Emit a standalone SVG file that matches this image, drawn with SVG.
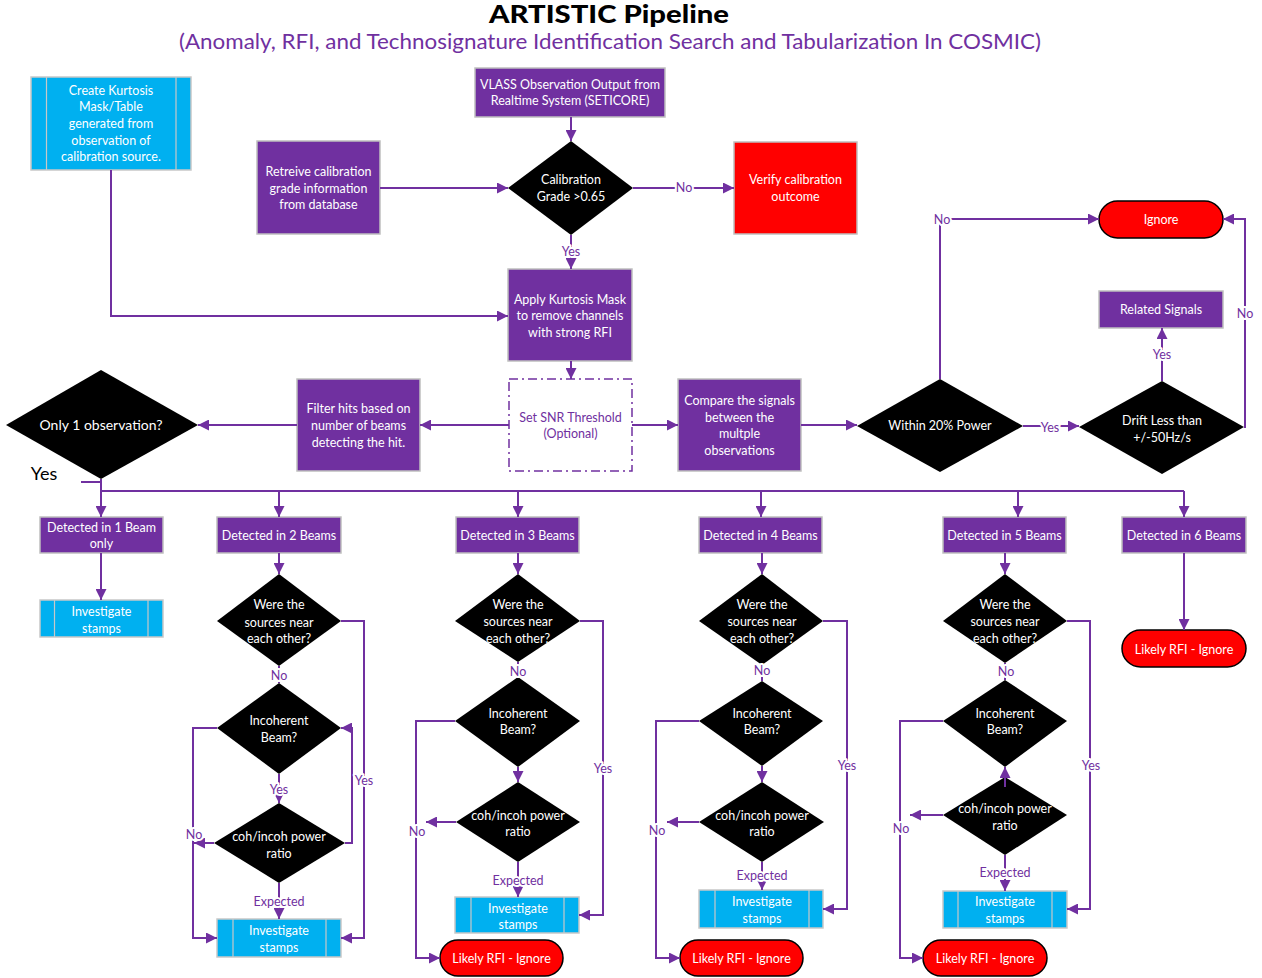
<svg xmlns="http://www.w3.org/2000/svg" width="1262" height="978" viewBox="0 0 1262 978">
<defs>
<marker id="ah" markerUnits="userSpaceOnUse" markerWidth="11" markerHeight="11" refX="10" refY="5" orient="auto" viewBox="0 0 10 10">
<path d="M0,0 L10,5 L0,10 z" fill="#7030A0"/>
</marker>
<style>
text{font-family:Lato,"Liberation Sans",sans-serif;font-size:12.5px;text-anchor:middle}
.w{fill:#fff}
.p{fill:#7030A0}
.pbox{fill:#7030A0;stroke:#BFBFBF;stroke-width:1.5}
.cbox{fill:#00B0F0;stroke:#C8C8C8;stroke-width:1.5}
.cin{stroke:#C8C8C8;stroke-width:1.2}
.rbox{fill:#FF0000;stroke:#BFBFBF;stroke-width:1.5}
.term{fill:#FF0000;stroke:#000;stroke-width:1.5}
.dia{fill:#000}
.c path{fill:none;stroke:#7030A0;stroke-width:2}
.c path.a{marker-end:url(#ah)}
.lbl{fill:#7030A0;stroke:#fff;stroke-width:4;paint-order:stroke;stroke-linejoin:round}
</style>
</defs>
<rect width="1262" height="978" fill="#fff"/>

<g id="title">
<text x="609" y="23" textLength="240" lengthAdjust="spacingAndGlyphs" style="font-size:25px;font-weight:900;fill:#000">ARTISTIC Pipeline</text>
<text x="610" y="49" textLength="862" lengthAdjust="spacingAndGlyphs" style="font-size:21px;fill:#7030A0">(Anomaly, RFI, and Technosignature Identification Search and Tabularization In COSMIC)</text>
</g>

<g id="n-kurtosis">
<rect class="cbox" x="31" y="77" width="160" height="93"/>
<line class="cin" x1="46.5" y1="77" x2="46.5" y2="170"/><line class="cin" x1="176" y1="77" x2="176" y2="170"/>
<text class="w" x="111"><tspan x="111" y="95">Create Kurtosis</tspan><tspan x="111" y="111">Mask/Table</tspan><tspan x="111" y="128">generated from</tspan><tspan x="111" y="145">observation of</tspan><tspan x="111" y="161">calibration source.</tspan></text>
</g>
<g id="n-retreive">
<rect class="pbox" x="257" y="141" width="123" height="93"/>
<text class="w"><tspan x="318.5" y="176">Retreive calibration</tspan><tspan x="318.5" y="193">grade information</tspan><tspan x="318.5" y="209">from database</tspan></text>
</g>
<g id="n-vlass">
<rect class="pbox" x="475" y="68" width="190" height="49"/>
<text class="w"><tspan x="570" y="89">VLASS Observation Output from</tspan><tspan x="570" y="105">Realtime System (SETICORE)</tspan></text>
</g>
<g id="n-calgrade">
<polygon class="dia" points="571,141 633,188 571,235 508,188"/>
<text class="w"><tspan x="571" y="184">Calibration</tspan><tspan x="571" y="201">Grade &gt;0.65</tspan></text>
</g>
<g id="n-verify">
<rect class="rbox" x="734" y="142" width="123" height="92"/>
<text class="w"><tspan x="795.5" y="184">Verify calibration</tspan><tspan x="795.5" y="201">outcome</tspan></text>
</g>
<g id="n-apply">
<rect class="pbox" x="508" y="269" width="124" height="92"/>
<text class="w"><tspan x="570" y="304">Apply Kurtosis Mask</tspan><tspan x="570" y="320">to remove channels</tspan><tspan x="570" y="337">with strong RFI</tspan></text>
</g>
<g id="n-snr">
<rect x="509" y="379" width="123" height="92" fill="#fff" stroke="#7030A0" stroke-width="1.5" stroke-dasharray="9,4,2,4"/>
<text class="p"><tspan x="570.5" y="422">Set SNR Threshold</tspan><tspan x="570.5" y="438">(Optional)</tspan></text>
</g>
<g id="n-compare">
<rect class="pbox" x="678" y="379" width="123" height="92"/>
<text class="w"><tspan x="739.5" y="405">Compare the signals</tspan><tspan x="739.5" y="422">between the</tspan><tspan x="739.5" y="438">multple</tspan><tspan x="739.5" y="455">observations</tspan></text>
</g>
<g id="n-filter">
<rect class="pbox" x="297" y="379" width="123" height="92"/>
<text class="w"><tspan x="358.5" y="413">Filter hits based on</tspan><tspan x="358.5" y="430">number of beams</tspan><tspan x="358.5" y="447">detecting the hit.</tspan></text>
</g>
<g id="n-only1">
<polygon class="dia" points="101,370 198,425 101,479 6,425"/>
<text class="w" x="101" y="430" style="font-size:14px">Only 1 observation?</text>
<text x="44" y="480" style="font-size:18px;fill:#000">Yes</text>
</g>
<g id="n-within">
<polygon class="dia" points="940,379 1023,426 940,472 857,426"/>
<text class="w" x="940" y="430">Within 20% Power</text>
</g>
<g id="n-drift">
<polygon class="dia" points="1162,381 1244,427 1162,474 1079,427"/>
<text class="w"><tspan x="1162" y="425">Drift Less than</tspan><tspan x="1162" y="442">+/-50Hz/s</tspan></text>
</g>
<g id="n-ignore">
<rect class="term" x="1099" y="201" width="124" height="37" rx="18.5"/>
<text class="w" x="1161" y="224">Ignore</text>
</g>
<g id="n-related">
<rect class="pbox" x="1099" y="291" width="124" height="37"/>
<text class="w" x="1161" y="314">Related Signals</text>
</g>

<g id="n-d1">
<rect class="pbox" x="40" y="517" width="123" height="36"/>
<text class="w"><tspan x="101.5" y="532">Detected in 1 Beam</tspan><tspan x="101.5" y="548">only</tspan></text>
</g>
<g id="n-inv1">
<rect class="cbox" x="40" y="600" width="123" height="37"/>
<line class="cin" x1="54.5" y1="600" x2="54.5" y2="637"/><line class="cin" x1="148" y1="600" x2="148" y2="637"/>
<text class="w"><tspan x="101.5" y="616">Investigate</tspan><tspan x="101.5" y="633">stamps</tspan></text>
</g>
<g id="n-d2"><rect class="pbox" x="217" y="517" width="124" height="36"/><text class="w" x="279" y="540">Detected in 2 Beams</text></g>
<g id="n-d3"><rect class="pbox" x="456" y="517" width="123" height="36"/><text class="w" x="517.5" y="540">Detected in 3 Beams</text></g>
<g id="n-d4"><rect class="pbox" x="699" y="517" width="123" height="36"/><text class="w" x="760.5" y="540">Detected in 4 Beams</text></g>
<g id="n-d5"><rect class="pbox" x="943" y="517" width="123" height="36"/><text class="w" x="1004.5" y="540">Detected in 5 Beams</text></g>
<g id="n-d6"><rect class="pbox" x="1122" y="517" width="124" height="36"/><text class="w" x="1184" y="540">Detected in 6 Beams</text></g>
<g id="n-rfi6"><rect class="term" x="1122" y="630" width="124" height="37" rx="18.5"/><text class="w" x="1184" y="654">Likely RFI - Ignore</text></g>

<!-- column 2 -->
<g id="n-near2"><polygon class="dia" points="279,574 341,621 279,666 217,621"/><text class="w"><tspan x="279" y="609">Were the</tspan><tspan x="279" y="627">sources near</tspan><tspan x="279" y="643">each other?</tspan></text></g>
<g id="n-inc2"><polygon class="dia" points="279,683 341,728 279,774 217,728"/><text class="w"><tspan x="279" y="725">Incoherent</tspan><tspan x="279" y="742">Beam?</tspan></text></g>
<g id="n-coh2"><polygon class="dia" points="279,803 345,843 279,883 214,843"/><text class="w"><tspan x="279" y="841">coh/incoh power</tspan><tspan x="279" y="858">ratio</tspan></text></g>
<g id="n-inv2"><rect class="cbox" x="217" y="919" width="124" height="38"/><line class="cin" x1="233" y1="919" x2="233" y2="957"/><line class="cin" x1="326" y1="919" x2="326" y2="957"/><text class="w"><tspan x="279" y="935">Investigate</tspan><tspan x="279" y="952">stamps</tspan></text></g>

<!-- column 3 -->
<g id="n-near3"><polygon class="dia" points="518,574 580,621 518,662 455,621"/><text class="w"><tspan x="518" y="609">Were the</tspan><tspan x="518" y="626">sources near</tspan><tspan x="518" y="643">each other?</tspan></text></g>
<g id="n-inc3"><polygon class="dia" points="518,677 580,721 518,767 455,721"/><text class="w"><tspan x="518" y="718">Incoherent</tspan><tspan x="518" y="734">Beam?</tspan></text></g>
<g id="n-coh3"><polygon class="dia" points="518,782 580,822 518,862 456,822"/><text class="w"><tspan x="518" y="820">coh/incoh power</tspan><tspan x="518" y="836">ratio</tspan></text></g>
<g id="n-inv3"><rect class="cbox" x="455" y="897" width="124" height="36"/><line class="cin" x1="471" y1="897" x2="471" y2="933"/><line class="cin" x1="564" y1="897" x2="564" y2="933"/><text class="w"><tspan x="518" y="913">Investigate</tspan><tspan x="518" y="929">stamps</tspan></text></g>
<g id="n-rfi3"><rect class="term" x="440" y="940" width="123" height="36" rx="18"/><text class="w" x="501.5" y="963">Likely RFI - Ignore</text></g>

<!-- column 4 -->
<g id="n-near4"><polygon class="dia" points="762,574 823,621 762,665 699,621"/><text class="w"><tspan x="762" y="609">Were the</tspan><tspan x="762" y="626">sources near</tspan><tspan x="762" y="643">each other?</tspan></text></g>
<g id="n-inc4"><polygon class="dia" points="762,681 823,721 762,766 699,721"/><text class="w"><tspan x="762" y="718">Incoherent</tspan><tspan x="762" y="734">Beam?</tspan></text></g>
<g id="n-coh4"><polygon class="dia" points="762,782 824,822 762,862 699,822"/><text class="w"><tspan x="762" y="820">coh/incoh power</tspan><tspan x="762" y="836">ratio</tspan></text></g>
<g id="n-inv4"><rect class="cbox" x="699" y="890" width="124" height="38"/><line class="cin" x1="715" y1="890" x2="715" y2="928"/><line class="cin" x1="809" y1="890" x2="809" y2="928"/><text class="w"><tspan x="762" y="906">Investigate</tspan><tspan x="762" y="923">stamps</tspan></text></g>
<g id="n-rfi4"><rect class="term" x="680" y="940" width="123" height="36" rx="18"/><text class="w" x="741.5" y="963">Likely RFI - Ignore</text></g>

<!-- column 5 -->
<g id="n-near5"><polygon class="dia" points="1005,574 1067,621 1005,663 943,621"/><text class="w"><tspan x="1005" y="609">Were the</tspan><tspan x="1005" y="626">sources near</tspan><tspan x="1005" y="643">each other?</tspan></text></g>
<g id="n-inc5"><polygon class="dia" points="1005,680 1067,721 1005,767 943,721"/><text class="w"><tspan x="1005" y="718">Incoherent</tspan><tspan x="1005" y="734">Beam?</tspan></text></g>
<g id="n-coh5"><polygon class="dia" points="1005,777 1067,815 1005,855 943,815"/><text class="w"><tspan x="1005" y="813">coh/incoh power</tspan><tspan x="1005" y="830">ratio</tspan></text></g>
<g id="n-inv5"><rect class="cbox" x="943" y="891" width="124" height="37"/><line class="cin" x1="958" y1="891" x2="958" y2="928"/><line class="cin" x1="1052" y1="891" x2="1052" y2="928"/><text class="w"><tspan x="1005" y="906">Investigate</tspan><tspan x="1005" y="923">stamps</tspan></text></g>
<g id="n-rfi5"><rect class="term" x="923" y="940" width="124" height="36" rx="18"/><text class="w" x="985" y="963">Likely RFI - Ignore</text></g>

<g id="connectors" class="c">
<path class="a" d="M571,117 V141"/>
<path class="a" d="M380,188 H508"/>
<path class="a" d="M633,188 H734"/>
<path class="a" d="M571,235 V269"/>
<path class="a" d="M111,170 V316 H508"/>
<path class="a" d="M571,361 V379"/>
<path class="a" d="M632,425 H678"/>
<path class="a" d="M509,425 H420"/>
<path class="a" d="M297,425 H198"/>
<path class="a" d="M801,425 H857"/>
<path class="a" d="M940,379 V219 H1099"/>
<path class="a" d="M1023,426 H1079"/>
<path class="a" d="M1162,381 V328"/>
<path class="a" d="M1244,427 H1245 V219 H1223"/>
<path d="M81,482 H101"/>
<path d="M101,479 V491 H1184"/>
<path class="a" d="M101,491 V517"/>
<path class="a" d="M279,491 V517"/>
<path class="a" d="M518,491 V517"/>
<path class="a" d="M761,491 V517"/>
<path class="a" d="M1018,491 V517"/>
<path class="a" d="M1184,491 V517"/>
<path class="a" d="M101,553 V600"/>
<path class="a" d="M1184,553 V630"/>
<path class="a" d="M279,553 V574"/>
<path d="M279,666 V683"/>
<path class="a" d="M279,774 V803"/>
<path class="a" d="M345,843 H352 V728 H341"/>
<path class="a" d="M217,728 H193 V938 H217"/>
<path class="a" d="M214,843 H194"/>
<path class="a" d="M279,883 V919"/>
<path class="a" d="M341,621 H364 V938 H341"/>
<path class="a" d="M518,553 V574"/>
<path d="M518,662 V677"/>
<path class="a" d="M518,767 V782"/>
<path class="a" d="M456,822 H426"/>
<path class="a" d="M455,721 H416 V958 H440"/>
<path class="a" d="M518,862 V897"/>
<path class="a" d="M580,621 H603 V915 H579"/>
<path class="a" d="M762,553 V574"/>
<path d="M762,665 V681"/>
<path class="a" d="M762,766 V782"/>
<path class="a" d="M699,822 H667"/>
<path class="a" d="M699,721 H656 V958 H680"/>
<path class="a" d="M762,862 V890"/>
<path class="a" d="M823,621 H847 V909 H823"/>
<path class="a" d="M1005,553 V574"/>
<path d="M1005,663 V680"/>
<path class="a" d="M1005,787 V767"/>
<path class="a" d="M943,815 H910"/>
<path class="a" d="M943,721 H900 V958 H923"/>
<path class="a" d="M1005,855 V891"/>
<path class="a" d="M1067,621 H1090 V909 H1067"/>
</g>

<g id="labels">
<text class="lbl" x="684" y="192">No</text>
<text class="lbl" x="571" y="256">Yes</text>
<text class="lbl" x="942" y="224">No</text>
<text class="lbl" x="1050" y="432">Yes</text>
<text class="lbl" x="1162" y="359">Yes</text>
<text class="lbl" x="1245" y="318">No</text>
<text class="lbl" x="279" y="680">No</text>
<text class="lbl" x="279" y="794">Yes</text>
<text class="lbl" x="194" y="839">No</text>
<text class="lbl" x="279" y="906">Expected</text>
<text class="lbl" x="364" y="785">Yes</text>
<text class="lbl" x="518" y="676">No</text>
<text class="lbl" x="417" y="836">No</text>
<text class="lbl" x="518" y="885">Expected</text>
<text class="lbl" x="603" y="773">Yes</text>
<text class="lbl" x="762" y="675">No</text>
<text class="lbl" x="657" y="835">No</text>
<text class="lbl" x="762" y="880">Expected</text>
<text class="lbl" x="847" y="770">Yes</text>
<text class="lbl" x="1006" y="676">No</text>
<text class="lbl" x="901" y="833">No</text>
<text class="lbl" x="1005" y="877">Expected</text>
<text class="lbl" x="1091" y="770">Yes</text>
</g>
</svg>
